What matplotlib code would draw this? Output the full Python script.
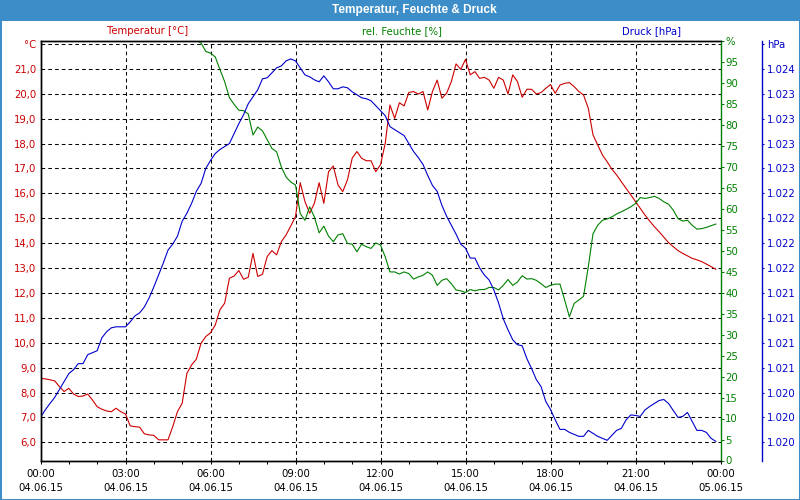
import math
import numpy as np
import matplotlib
matplotlib.use("Agg")
import matplotlib.pyplot as plt
from matplotlib.ticker import FixedLocator, FuncFormatter, MultipleLocator
from matplotlib.patches import Rectangle

# ---------------- data (10-minute samples, 04.06.15 00:00 .. 23:50) ----------------
hours = np.arange(144) / 6.0

temperature = [
    8.57, 8.55, 8.51, 8.47, 8.24, 8.04,
    8.17, 7.94, 7.84, 7.86, 7.94, 7.70,
    7.43, 7.33, 7.26, 7.23, 7.37, 7.23,
    7.14, 6.66, 6.63, 6.61, 6.34, 6.30,
    6.28, 6.10, 6.10, 6.10, 6.63, 7.23,
    7.57, 8.77, 9.11, 9.34, 9.98, 10.25,
    10.40, 10.71, 11.32, 11.59, 12.59, 12.68,
    12.90, 12.55, 12.63, 13.59, 12.66, 12.75,
    13.46, 13.70, 13.53, 14.06, 14.33, 14.69,
    15.07, 16.43, 15.67, 15.20, 15.60, 16.43,
    15.60, 16.87, 17.10, 16.34, 16.07, 16.54,
    17.41, 17.68, 17.41, 17.31, 17.31, 16.87,
    17.15, 18.01, 19.55, 19.01, 19.64, 19.51,
    20.05, 20.09, 19.99, 20.09, 19.35, 20.09,
    20.55, 19.82, 20.02, 20.49, 21.20, 20.98,
    21.38, 20.76, 20.89, 20.62, 20.66, 20.55,
    20.22, 20.66, 20.55, 19.99, 20.76, 20.49,
    19.86, 20.18, 20.18, 19.99, 20.05, 20.22,
    20.37, 20.02, 20.35, 20.42, 20.45, 20.29,
    20.09, 19.95, 19.42, 18.35, 17.94, 17.54,
    17.27, 16.97, 16.74, 16.47, 16.20, 15.94,
    15.67, 15.40, 15.13, 14.89, 14.66, 14.46,
    14.24, 14.02, 13.86, 13.70, 13.59, 13.49,
    13.39, 13.33, 13.26, 13.16, 13.06, 12.95,
]

humidity = [
    100, 100, 100, 100, 100, 100,
    100, 100, 100, 100, 100, 100,
    100, 100, 100, 100, 100, 100,
    100, 100, 100, 100, 100, 100,
    100, 100, 100, 100, 100, 100,
    100, 100, 100, 100.0, 99.4, 97.4,
    97.0, 96.1, 93.1, 90.2, 86.4, 84.8,
    83.4, 83.3, 82.5, 77.5, 79.4, 78.5,
    76.4, 74.3, 73.5, 69.9, 67.5, 66.3,
    65.6, 58.8, 57.2, 60.4, 58.0, 54.2,
    55.8, 53.4, 52.1, 53.7, 54.0, 51.7,
    51.5, 49.7, 51.5, 50.9, 50.5, 51.8,
    51.3, 48.5, 44.9, 44.9, 44.4, 44.9,
    44.5, 43.2, 43.7, 44.1, 44.9, 44.1,
    41.7, 42.9, 43.3, 42.1, 40.6, 40.4,
    40.0, 40.7, 40.4, 40.7, 40.7, 41.2,
    41.2, 40.6, 41.7, 43.1, 41.7, 42.5,
    44.0, 43.2, 43.3, 42.9, 42.1, 41.2,
    41.7, 42.0, 42.0, 38.2, 34.2, 37.4,
    38.2, 39.1, 46.1, 54.0, 56.0, 57.2,
    57.5, 58.0, 58.7, 59.2, 59.8, 60.4,
    61.2, 62.6, 62.4, 62.6, 62.9, 62.4,
    61.6, 61.0, 59.6, 57.6, 57.0, 57.2,
    56.0, 55.1, 55.2, 55.5, 55.9, 56.3,
]

pressure = [
    1020.00, 1020.075, 1020.14, 1020.20, 1020.28, 1020.36,
    1020.44, 1020.48, 1020.54, 1020.54, 1020.63, 1020.65,
    1020.67, 1020.80, 1020.86, 1020.90, 1020.91, 1020.91,
    1020.91, 1020.96, 1021.02, 1021.05, 1021.11, 1021.20,
    1021.31, 1021.43, 1021.55, 1021.68, 1021.74, 1021.82,
    1021.97, 1022.05, 1022.15, 1022.27, 1022.35, 1022.50,
    1022.58, 1022.65, 1022.69, 1022.72, 1022.75, 1022.85,
    1022.95, 1023.04, 1023.15, 1023.22, 1023.29, 1023.40,
    1023.41, 1023.46, 1023.51, 1023.53, 1023.58, 1023.60,
    1023.58, 1023.51, 1023.44, 1023.42, 1023.39, 1023.37,
    1023.43, 1023.37, 1023.30, 1023.30, 1023.32, 1023.31,
    1023.27, 1023.24, 1023.21, 1023.20, 1023.18, 1023.13,
    1023.08, 1023.03, 1022.92, 1022.89, 1022.86, 1022.83,
    1022.75, 1022.67, 1022.61, 1022.54, 1022.43, 1022.33,
    1022.27, 1022.13, 1022.02, 1021.93, 1021.84, 1021.74,
    1021.70, 1021.60, 1021.60, 1021.50, 1021.43, 1021.38,
    1021.28, 1021.15, 1020.99, 1020.88, 1020.78, 1020.73,
    1020.72, 1020.59, 1020.49, 1020.38, 1020.31, 1020.16,
    1020.08, 1019.975, 1019.88, 1019.88, 1019.85, 1019.83,
    1019.81, 1019.81, 1019.87, 1019.84, 1019.81, 1019.79,
    1019.77, 1019.82, 1019.87, 1019.89, 1019.975, 1020.025,
    1020.02, 1020.01, 1020.075, 1020.11, 1020.14, 1020.17,
    1020.18, 1020.14, 1020.07, 1020.00, 1020.01, 1020.05,
    1019.96, 1019.87, 1019.87, 1019.85, 1019.79, 1019.76,
]

x_ticks = [0, 3, 6, 9, 12, 15, 18, 21, 24]
x_tick_labels = ["00:00\n04.06.15", "03:00\n04.06.15", "06:00\n04.06.15",
                 "09:00\n04.06.15", "12:00\n04.06.15", "15:00\n04.06.15",
                 "18:00\n04.06.15", "21:00\n04.06.15", "00:00\n05.06.15"]
temp_ticks = list(range(6, 23))
hum_ticks = list(range(0, 101, 5))
press_ticks = [1019.75 + 0.25 * k for k in range(17)]

title = "Temperatur, Feuchte & Druck"
label_temp = "Temperatur [°C]"
label_hum = "rel. Feuchte [%]"
label_press = "Druck [hPa]"

# ---------------- style ----------------
RED = "#cc0000"
GREEN = "#008000"
BLUE = "#0000cc"
BAR = "#3d8ec8"
FS = 7.3
plt.rcParams["font.family"] = ["DejaVu Sans"]

W, H = 800, 500
fig = plt.figure(figsize=(W / 100, H / 100), dpi=100)
fig.patch.set_facecolor("white")

# title bar and frame
fig.add_artist(Rectangle((0, 1 - 21 / H), 1, 21 / H, transform=fig.transFigure,
                         facecolor=BAR, edgecolor="none", zorder=0))
fig.add_artist(Rectangle((0, 0), 1, 1, transform=fig.transFigure, fill=False,
                         edgecolor=BAR, linewidth=2.2, zorder=10))
fig.text(414 / W, 1 - 10.5 / H, title, color="white", fontweight="bold",
         ha="center", va="center", fontsize=8.6, family="Liberation Sans")

left_px, right_px, top_px, bot_px = 40.5, 720.5, 40.5, 460.5
ax = fig.add_axes([left_px / W, 1 - bot_px / H, (right_px - left_px) / W,
                   (bot_px - top_px) / H])
ax.set_facecolor("none")

t_lo, t_hi = 5.27, 22.14
ax.set_xlim(0, 24)
ax.set_ylim(t_lo, t_hi)

grid_kw = dict(color="black", linewidth=0.75, linestyle=(0, (3.5, 3)))
ax.xaxis.set_major_locator(FixedLocator(x_ticks))
ax.xaxis.set_minor_locator(MultipleLocator(1))
ax.set_xticklabels(x_tick_labels, linespacing=1.55)
ax.yaxis.set_major_locator(FixedLocator(temp_ticks))
ax.yaxis.set_major_formatter(FuncFormatter(
    lambda v, p: "°C" if abs(v - 22) < 1e-6 else f"{v:.1f}".replace(".", ",")))
ax.grid(True, which="major", **grid_kw)
ax.tick_params(axis="x", which="both", direction="out", length=2.3, width=0.75,
               color="black", labelsize=FS, pad=3.5)
ax.tick_params(axis="y", length=0, pad=3.2, labelsize=FS, labelcolor=RED)
for s in ["top", "bottom", "left"]:
    ax.spines[s].set_color("black")
    ax.spines[s].set_linewidth(1.0)
ax.spines["right"].set_visible(False)

ax.plot(hours, temperature, color=RED, linewidth=0.8)

# humidity axis
axh = ax.twinx()
axh.set_ylim(0, 100)
axh.yaxis.set_major_locator(FixedLocator(hum_ticks))
axh.yaxis.set_major_formatter(FuncFormatter(
    lambda v, p: "%" if abs(v - 100) < 1e-6 else f"{v:.0f}"))
axh.tick_params(axis="y", direction="out", length=2.3, width=0.75, color=GREEN,
                labelcolor=GREEN, labelsize=FS, pad=1)
for s in ["top", "bottom", "left"]:
    axh.spines[s].set_visible(False)
axh.spines["right"].set_color(GREEN)
axh.spines["right"].set_linewidth(1.0)
axh.plot(hours, humidity, color=GREEN, linewidth=0.8)

# pressure axis
axp = ax.twinx()
p_lo = 1019.75 + (t_lo - 6) * 0.25
p_hi = 1019.75 + (t_hi - 6) * 0.25
axp.set_ylim(p_lo, p_hi)
axp.spines["right"].set_position(("outward", 41.5 * 0.72))
axp.spines["right"].set_color(BLUE)
axp.spines["right"].set_linewidth(1.0)


def press_fmt(v, p):
    if abs(v - press_ticks[-1]) < 1e-6:
        return "hPa"
    n = int(math.floor(v + 0.5))
    s = str(n)
    return s[:-3] + "." + s[-3:]


axp.yaxis.set_major_locator(FixedLocator(press_ticks))
axp.yaxis.set_major_formatter(FuncFormatter(press_fmt))
axp.tick_params(axis="y", direction="out", length=1.5, width=0.75, color=BLUE,
                labelcolor=BLUE, labelsize=FS, pad=2)
for s in ["top", "bottom", "left"]:
    axp.spines[s].set_color("black")
    axp.spines[s].set_linewidth(1.0)
axp.plot(hours, pressure, color=BLUE, linewidth=0.8)

# series labels above plot
fig.text(148 / W, 1 - 31.5 / H, label_temp, color=RED, ha="center", va="center", fontsize=FS)
fig.text(402 / W, 1 - 31.5 / H, label_hum, color=GREEN, ha="center", va="center", fontsize=FS)
fig.text(652 / W, 1 - 31.5 / H, label_press, color=BLUE, ha="center", va="center", fontsize=FS)

fig.savefig("out.png", dpi=100, facecolor="white")
